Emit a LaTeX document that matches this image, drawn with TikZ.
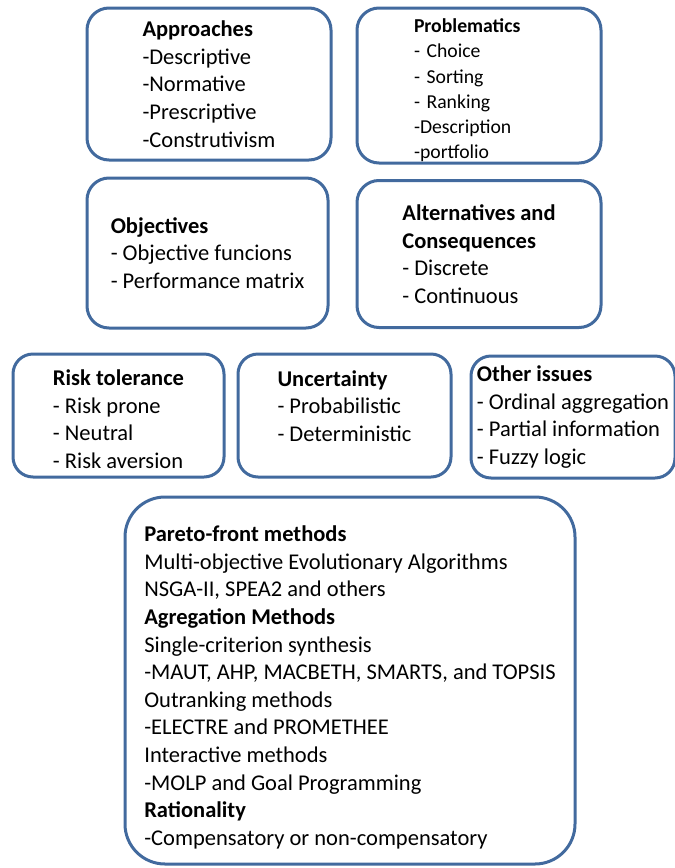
\documentclass[tikz,border=0pt]{standalone}
\usepackage{fontspec}
\setmainfont{Carlito}
\usepackage{xcolor}
\usetikzlibrary{positioning}
\definecolor{boxblue}{RGB}{66,106,158}

\begin{document}
\begin{tikzpicture}[x=1pt, y=-1pt,
    topicbox/.style={draw=boxblue, line width=3pt, rounded corners=22pt, align=left, inner sep=0pt,
      font=\fontsize{22.5}{27.6}\selectfont},
    smallbox/.style={topicbox, font=\fontsize{19.7}{25.2}\selectfont}]
    \useasboundingbox (0,0) rectangle (675,868);

    % Top row
    \node (approach) [topicbox, minimum width=244pt, minimum height=152pt] at (209,84)
      {\textbf{Approaches}\\-Descriptive\\-Normative\\-Prescriptive\\-Construtivism};
    \node (problem) [smallbox, text width=130pt, inner xsep=57pt, minimum height=155pt] at (479,85.5)
      {\rule{0pt}{23.6pt}\textbf{Problematics}\\- Choice\\- Sorting\\- Ranking\\-Description\\-portfolio};

    % Second row
    \node (objective) [topicbox, minimum width=241pt, minimum height=150pt] at (207.5,253)
      {\textbf{Objectives}\\- Objective funcions\\- Performance matrix};
    \node (altern) [topicbox, minimum width=244pt, minimum height=147pt] at (479,254)
      {\textbf{Alternatives and}\\\textbf{Consequences}\\- Discrete\\- Continuous};

    % Third row
    \node (risk) [topicbox, rounded corners=20pt, minimum width=211pt, minimum height=123pt] at (118.5,415.5)
      {\rule{0pt}{23.5pt}\textbf{Risk tolerance}\\- Risk prone\\- Neutral\\- Risk aversion};
    \node (uncert) [topicbox, rounded corners=20pt, minimum width=213pt, minimum height=123pt] at (344.5,415.5)
      {\textbf{Uncertainty}\\- Probabilistic\\- Deterministic\\[-8.6pt]};
    \node (other) [topicbox, rounded corners=20pt, minimum width=204pt, minimum height=122pt] at (573,417)
      {\textbf{Other issues}\\- Ordinal aggregation\\- Partial information\\- Fuzzy logic};

    % Methods
    \node (method) [topicbox, rounded corners=40pt, minimum width=450pt, minimum height=367pt] at (350,680.5)
      {\rule{0pt}{29.5pt}\textbf{Pareto-front methods}\\Multi-objective Evolutionary Algorithms\\NSGA-II, SPEA2 and others\\
       \textbf{Agregation Methods}\\Single-criterion synthesis\\-MAUT, AHP, MACBETH, SMARTS, and TOPSIS\\
       Outranking methods\\-ELECTRE and PROMETHEE\\Interactive methods\\-MOLP and Goal Programming\\
       \textbf{Rationality}\\-Compensatory or non-compensatory};
\end{tikzpicture}
\end{document}
